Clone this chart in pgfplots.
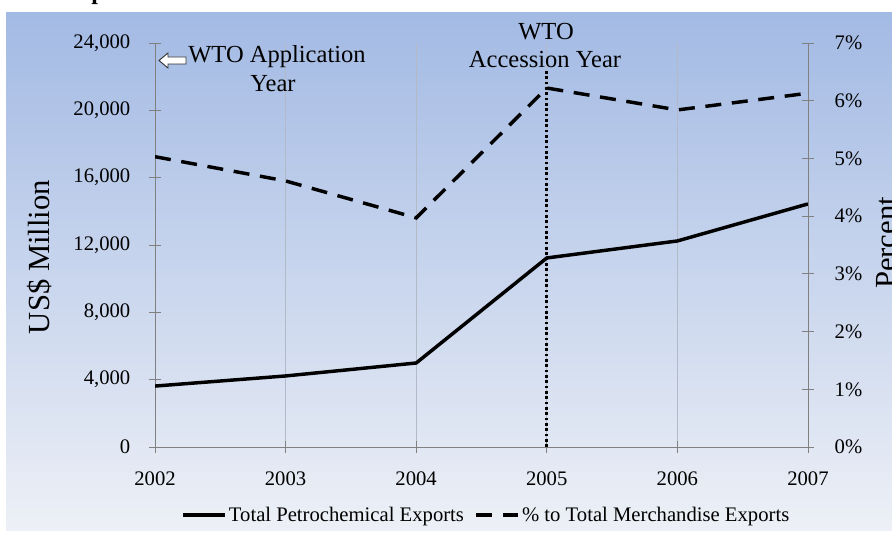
\documentclass[border=0pt]{standalone}
\usepackage{fontspec}
\setmainfont{Liberation Serif}
\usepackage{pgfplots}
\pgfplotsset{compat=1.18}

\definecolor{bgtop}{RGB}{163,186,228}
\definecolor{bgbot}{RGB}{237,240,246}
\definecolor{axgray}{RGB}{128,128,128}
\definecolor{gridgray}{RGB}{178,186,200}

% shared frame of both axes (picture units are px of the reference)
\pgfplotsset{
  base/.style={
    at={(116.25pt,65.25pt)}, anchor=south west, scale only axis,
    width=489.75pt, height=303pt,
    xmin=2002, xmax=2007,
    tick align=center, major tick length=9pt,
    tick style={axgray, line width=0.6pt},
    ticklabel style={font=\fontsize{15.5}{18}\selectfont},
    /pgf/number format/assume math mode=true,
  }}

\begin{document}
\begin{tikzpicture}[x=0.75pt,y=0.75pt]
\useasboundingbox (0,0) rectangle (892,534);
\clip (0,0) rectangle (892,534);
\fill[white] (0,0) rectangle (892,534);
\shade[top color=bgtop, bottom color=bgbot] (6,3) rectangle (892,521);
\node[font=\fontsize{18}{18}\bfseries\selectfont, anchor=base west, inner sep=0] at (91,534) {p};

% left axis: exports, US$ million
\begin{axis}[base,
  ymin=0, ymax=24000, ytick={0,4000,...,24000},
  axis x line*=bottom, axis y line*=left,
  axis line style={-, axgray, line width=0.6pt},
  xtick={2002,...,2007}, xticklabels={2002,2003,2004,2005,2006,2007},
  xmajorgrids, grid style={gridgray, line width=0.4pt},
  scaled y ticks=false,
  yticklabel style={/pgf/number format/1000 sep={,}, xshift=-10.5pt},
  xticklabel style={yshift=-10.5pt}]
\addplot[black, line width=2.6pt] coordinates {
  (2002,3620) (2003,4220) (2004,4990) (2005,11230) (2006,12240) (2007,14440)};
\draw[black, line width=2.4pt, dash pattern=on 2pt off 2pt]
  (axis cs:2005,0) -- (axis cs:2005,22400);
\end{axis}

% right axis: share of total merchandise exports, percent
\begin{axis}[base,
  ymin=0, ymax=7, ytick={0,...,7},
  axis x line=none, axis y line*=right,
  axis line style={-, axgray, line width=0.6pt},
  yticklabel={\pgfmathprintnumber{\tick}\%},
  yticklabel style={xshift=12pt},
  legend style={at={(0.508,-0.168)}, anchor=center, draw=none, fill=none,
    legend columns=2, font=\fontsize{15.5}{18}\selectfont,
    /tikz/every even column/.append style={column sep=6pt}},
  legend image code/.code={\draw[#1] (0pt,0pt) -- (31pt,0pt);}]
\addlegendimage{black, line width=2.6pt}
\addlegendentry{Total Petrochemical Exports}
\addplot[black, line width=2.6pt, dash pattern=on 12pt off 8pt] coordinates {
  (2002,5.03) (2003,4.61) (2004,3.97) (2005,6.22) (2006,5.84) (2007,6.13)};
\addlegendentry{\% to Total Merchandise Exports}
\end{axis}

% annotations
\begin{scope}[every node/.style={font=\fontsize{18.4}{21}\selectfont, anchor=base, inner sep=0}]
\node at (277,471) {WTO Application};
\node at (273,442) {Year};
\node at (546,494) {WTO};
\node at (545,466) {Accession Year};
\end{scope}
\draw[fill=white, draw=black!80, line width=0.7pt]
  (159,473.5) -- (168,481) -- (168,477) -- (186,477) -- (186,470)
  -- (168,470) -- (168,466) -- cycle;
\node[rotate=90, font=\fontsize{23}{26}\selectfont] at (40,277) {US\$ Million};
\node[rotate=90, font=\fontsize{23}{26}\selectfont] at (887,291) {Percent};
\end{tikzpicture}
\end{document}
